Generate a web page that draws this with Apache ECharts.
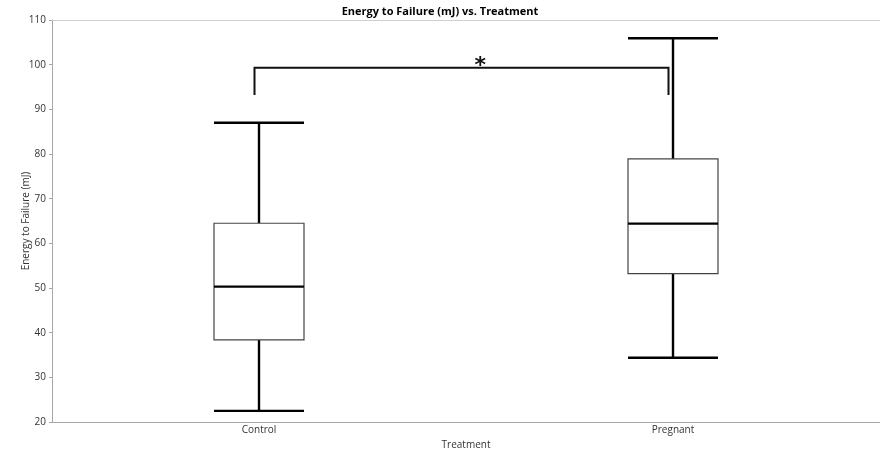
<!DOCTYPE html>
<html>
<head>
<meta charset="utf-8">
<script src="https://cdn.jsdelivr.net/npm/echarts@6/dist/echarts.min.js"></script>
<style>
  html, body { margin: 0; padding: 0; background: #fff; }
  #chart { width: 880px; height: 450px; }
</style>
</head>
<body>
<div id="chart"></div>
<script>
// Treatment groups and five-number summaries of energy to failure (mJ)
const categories = ['Control', 'Pregnant'];
const minVals    = [22.5, 34.4];
const q1Vals     = [38.4, 53.2];
const medianVals = [50.3, 64.4];
const q3Vals     = [64.5, 78.9];
const maxVals    = [87.0, 105.9];

// Significance bracket between the two groups
const bracketFrom = 0;
const bracketTo = 1;
const bracketTop = 99.3;
const bracketLegEnd = 93.2;
const bracketLabel = '*';

// Y axis ticks
const yMin = 20;
const yMax = 110;
const yStep = 10;

const FONT = 'Open Sans';
const AXIS_GREY = '#a6a6a6';

const boxData = categories.map((c, i) => [i, minVals[i], q1Vals[i], medianVals[i], q3Vals[i], maxVals[i]]);

const chart = echarts.init(document.getElementById('chart'), null, { renderer: 'canvas' });

chart.setOption({
  animation: false,
  backgroundColor: '#fff',
  title: {
    text: 'Energy to Failure (mJ) vs. Treatment',
    left: 'center',
    top: 1,
    textStyle: { fontFamily: FONT, fontSize: 11, fontWeight: 'bold', color: '#000' }
  },
  grid: { left: 52, right: 0, top: 20, bottom: 28, outerBoundsMode: 'none', containLabel: false },
  xAxis: [{
    type: 'category',
    data: categories,
    name: 'Treatment',
    nameLocation: 'middle',
    nameGap: 18,
    nameMoveOverlap: false,
    nameTextStyle: { fontFamily: FONT, fontSize: 10, color: '#333' },
    axisLine: { lineStyle: { color: AXIS_GREY, width: 1 } },
    axisTick: { show: false },
    axisLabel: { fontFamily: FONT, fontSize: 10, color: '#333', margin: 3 },
    splitLine: { show: false }
  }, {
    type: 'category',
    data: categories,
    position: 'top',
    axisLine: { lineStyle: { color: '#d0d0d0', width: 1 } },
    axisTick: { show: false },
    axisLabel: { show: false },
    splitLine: { show: false }
  }],
  yAxis: {
    type: 'value',
    min: yMin,
    max: yMax,
    interval: yStep,
    name: 'Energy to Failure (mJ)',
    nameLocation: 'middle',
    nameGap: 21,
    nameMoveOverlap: false,
    nameTextStyle: { fontFamily: FONT, fontSize: 10, color: '#333' },
    axisLine: { show: true, lineStyle: { color: AXIS_GREY, width: 1 } },
    axisTick: { show: true, length: 3, lineStyle: { color: AXIS_GREY } },
    axisLabel: { fontFamily: FONT, fontSize: 10, color: '#333', margin: 6 },
    splitLine: { show: false }
  },
  series: [{
    type: 'custom',
    name: 'box',
    data: boxData,
    encode: { x: 0, y: [1, 2, 3, 4, 5] },
    renderItem: function (params, api) {
      const idx = api.value(0);
      const pMin = api.coord([idx, api.value(1)]);
      const pQ1 = api.coord([idx, api.value(2)]);
      const pMed = api.coord([idx, api.value(3)]);
      const pQ3 = api.coord([idx, api.value(4)]);
      const pMax = api.coord([idx, api.value(5)]);
      const half = 45;
      const cx = pMed[0];
      const whisker = { stroke: '#000', lineWidth: 2.4 };
      return {
        type: 'group',
        children: [
          { type: 'line', shape: { x1: cx, y1: pMax[1], x2: cx, y2: pQ3[1] }, style: whisker },
          { type: 'line', shape: { x1: cx, y1: pQ1[1], x2: cx, y2: pMin[1] }, style: whisker },
          { type: 'line', shape: { x1: cx - half, y1: pMax[1], x2: cx + half, y2: pMax[1] }, style: whisker },
          { type: 'line', shape: { x1: cx - half, y1: pMin[1], x2: cx + half, y2: pMin[1] }, style: whisker },
          { type: 'rect', shape: { x: cx - half, y: pQ3[1], width: half * 2, height: pQ1[1] - pQ3[1] },
            style: { fill: '#fff', stroke: '#444', lineWidth: 1.2 } },
          { type: 'line', shape: { x1: cx - half, y1: pMed[1], x2: cx + half, y2: pMed[1] },
            style: { stroke: '#000', lineWidth: 2.2 } }
        ]
      };
    }
  }, {
    type: 'custom',
    name: 'significance',
    data: [[bracketFrom, bracketTo, bracketTop, bracketLegEnd]],
    encode: { x: [0, 1], y: [2, 3] },
    renderItem: function (params, api) {
      const a = api.coord([api.value(0), api.value(2)]);
      const b = api.coord([api.value(1), api.value(2)]);
      const legA = api.coord([api.value(0), api.value(3)]);
      const off = -4.5;
      const x1 = a[0] + off;
      const x2 = b[0] + off;
      const style = { stroke: '#111', lineWidth: 2 };
      return {
        type: 'group',
        children: [
          { type: 'polyline', shape: { points: [[x1, legA[1]], [x1, a[1]], [x2, a[1]], [x2, legA[1]]] },
            style: Object.assign({ fill: null }, style) },
          { type: 'text', x: x1 + (x2 - x1) * 0.545, y: a[1] + 9,
            style: { text: bracketLabel, fontFamily: 'DejaVu Sans', fontSize: 22, fontWeight: 'bold',
                     fill: '#111', align: 'center', verticalAlign: 'bottom' } }
        ]
      };
    }
  }]
});
</script>
</body>
</html>
